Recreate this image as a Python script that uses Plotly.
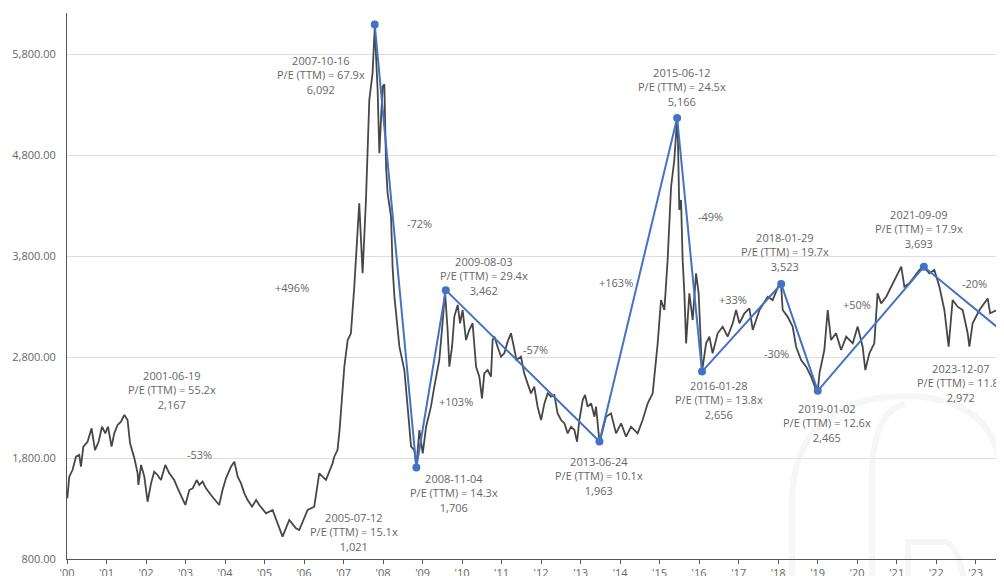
import plotly.graph_objects as go
import pandas as pd

# ---------------- data ----------------
index_dates = [
    "2000-01-04", "2000-01-22", "2000-02-21", "2000-03-24", "2000-04-23", "2000-05-09", "2000-05-31",
    "2000-07-09", "2000-08-15", "2000-09-16", "2000-10-19", "2000-11-20", "2000-12-20", "2001-01-14",
    "2001-02-16", "2001-03-13", "2001-04-13", "2001-05-14", "2001-06-14", "2001-07-14", "2001-08-06",
    "2001-09-15", "2001-10-15", "2001-10-22", "2001-11-16", "2001-12-16", "2002-01-15", "2002-02-16",
    "2002-03-17", "2002-04-17", "2002-05-19", "2002-06-28", "2002-08-04", "2002-09-18", "2002-10-28",
    "2002-12-04", "2002-12-30", "2003-02-05", "2003-03-08", "2003-04-14", "2003-05-08", "2003-06-08",
    "2003-07-09", "2003-08-24", "2003-10-10", "2003-11-08", "2003-12-09", "2004-01-10", "2004-02-25",
    "2004-03-27", "2004-04-27", "2004-05-28", "2004-06-28", "2004-07-28", "2004-09-07", "2004-10-14",
    "2004-11-13", "2005-01-14", "2005-03-16", "2005-05-17", "2005-06-16", "2005-08-17", "2005-10-18",
    "2005-11-17", "2006-02-03", "2006-04-05", "2006-05-21", "2006-07-22", "2006-09-21", "2006-10-07",
    "2006-11-06", "2006-11-25", "2006-12-10", "2007-01-08", "2007-02-08", "2007-03-10", "2007-04-10",
    "2007-05-26", "2007-06-26", "2007-07-27", "2007-08-27", "2007-09-26", "2007-10-16", "2007-11-12",
    "2007-11-28", "2007-12-28", "2008-01-13", "2008-01-29", "2008-02-12", "2008-03-15", "2008-03-29",
    "2008-04-15", "2008-05-31", "2008-07-16", "2008-08-15", "2008-09-16", "2008-10-16", "2008-11-04",
    "2008-12-02", "2009-01-02", "2009-02-02", "2009-03-19", "2009-04-19", "2009-06-04", "2009-07-04",
    "2009-07-27", "2009-08-20", "2009-09-05", "2009-09-30", "2009-10-21", "2009-11-21", "2009-12-13",
    "2010-01-06", "2010-02-06", "2010-03-08", "2010-04-08", "2010-05-10", "2010-06-09", "2010-07-04",
    "2010-07-25", "2010-08-25", "2010-09-25", "2010-10-10", "2010-10-26", "2010-11-25", "2010-12-27",
    "2011-01-26", "2011-02-26", "2011-03-29", "2011-04-19", "2011-05-19", "2011-06-29", "2011-07-29",
    "2011-08-29", "2011-09-30", "2011-10-30", "2011-11-30", "2012-01-01", "2012-02-01", "2012-03-02",
    "2012-04-02", "2012-05-03", "2012-06-02", "2012-07-04", "2012-08-04", "2012-09-03", "2012-10-04",
    "2012-11-04", "2012-11-29", "2012-12-20", "2013-01-20", "2013-02-11", "2013-03-07", "2013-04-08",
    "2013-05-08", "2013-05-23", "2013-06-16", "2013-06-25", "2013-08-23", "2013-10-09", "2013-11-24",
    "2014-01-10", "2014-02-25", "2014-04-12", "2014-06-12", "2014-07-28", "2014-09-13", "2014-10-29",
    "2014-12-14", "2015-01-14", "2015-02-14", "2015-03-16", "2015-04-17", "2015-05-17", "2015-06-12",
    "2015-06-20", "2015-07-02", "2015-07-18", "2015-08-02", "2015-08-18", "2015-09-03", "2015-10-03",
    "2015-11-03", "2015-12-04", "2015-12-28", "2016-01-19", "2016-01-28", "2016-03-06", "2016-04-05",
    "2016-05-05", "2016-06-21", "2016-08-06", "2016-09-21", "2016-11-07", "2016-12-08", "2017-01-08",
    "2017-02-23", "2017-04-10", "2017-05-11", "2017-07-12", "2017-09-26", "2017-11-11", "2017-12-27",
    "2018-01-25", "2018-02-12", "2018-03-29", "2018-05-15", "2018-06-16", "2018-08-01", "2018-09-17",
    "2018-11-02", "2018-12-12", "2019-01-02", "2019-01-18", "2019-03-04", "2019-04-04", "2019-05-05",
    "2019-06-20", "2019-08-06", "2019-09-22", "2019-11-22", "2020-01-06", "2020-02-21", "2020-03-17",
    "2020-04-23", "2020-06-08", "2020-07-08", "2020-08-10", "2020-09-26", "2020-11-26", "2021-01-11",
    "2021-02-12", "2021-03-13", "2021-04-28", "2021-06-14", "2021-07-30", "2021-09-09", "2021-10-30",
    "2021-12-15", "2022-01-31", "2022-03-18", "2022-04-26", "2022-06-02", "2022-07-18", "2022-09-03",
    "2022-10-19", "2022-11-04", "2022-12-04", "2023-02-05", "2023-04-22", "2023-05-15", "2023-07-16",
    "2023-08-22", "2023-10-20", "2023-12-07",
]
index_values = [
    1401, 1615, 1681, 1813, 1830, 1714, 1912,
    1961, 2094, 1879, 1961, 2110, 2044, 2110,
    1912, 2044, 2127, 2160, 2226, 2176, 1946,
    1797, 1648, 1533, 1731, 1615, 1367, 1549,
    1664, 1632, 1582, 1731, 1648, 1582, 1483,
    1401, 1335, 1483, 1500, 1582, 1533, 1566,
    1500, 1434, 1367, 1335, 1483, 1599, 1714,
    1764, 1615, 1549, 1450, 1384, 1318, 1384,
    1335, 1252, 1285, 1120, 1021, 1186, 1104,
    1087, 1285, 1318, 1648, 1582, 1747, 1813,
    1879, 2077, 2308, 2704, 2968, 3035, 3496,
    4322, 3629, 4355, 5345, 5609, 6060, 5444,
    4817, 5477, 5500, 4684, 4421, 4190, 3695,
    3400, 2902, 2671, 2308, 1912, 1879, 1720,
    2077, 1846, 2110, 2308, 2506, 2770, 3134,
    3446, 3067, 2704, 2902, 3200, 3315, 3134,
    3265, 2968, 3067, 3134, 2704, 2605, 2391,
    2638, 2671, 2605, 2968, 3002, 2902, 2803,
    2836, 2952, 3035, 2935, 2770, 2803, 2638,
    2539, 2440, 2506, 2308, 2176, 2341, 2440,
    2407, 2424, 2242, 2176, 2143, 2044, 2110,
    2077, 1961, 2176, 2374, 2424, 2308, 2341,
    2209, 2308, 2061, 1950, 2209, 2242, 2044,
    2143, 2011, 2110, 2044, 2176, 2341, 2440,
    2935, 3364, 3265, 3760, 4486, 4751, 5166,
    4916, 4256, 4355, 3760, 3431, 2935, 3431,
    3166, 3629, 3431, 2902, 2656, 2935, 3002,
    2836, 3035, 3101, 3002, 3134, 3265, 3134,
    3233, 3282, 3068, 3265, 3397, 3364, 3496,
    3560, 3265, 3200, 3101, 2902, 2770, 2704,
    2605, 2490, 2465, 2638, 2869, 3265, 2968,
    3035, 2869, 3002, 2935, 3101, 2902, 2671,
    2836, 2935, 3431, 3331, 3397, 3529, 3629,
    3695, 3496, 3529, 3596, 3662, 3693, 3629,
    3662, 3496, 3265, 2902, 3364, 3298, 3265,
    3035, 2902, 3134, 3265, 3380, 3233, 3265,
    3166, 3030, 2972,
]

pivot_dates = ["2001-06-19", "2005-07-12", "2007-10-16", "2008-11-04", "2009-08-03", "2013-06-24",
               "2015-06-12", "2016-01-28", "2018-01-29", "2019-01-02", "2021-09-09", "2023-12-07"]
pivot_values = [2167, 1021, 6092, 1706, 3462, 1963, 5166, 2656, 3523, 2465, 3693, 2972]
pivot_pe = [55.2, 15.1, 67.9, 14.3, 29.4, 10.1, 24.5, 13.8, 19.7, 12.6, 17.9, 11.8]
change_labels = ["-53%", "+496%", "-72%", "+103%", "-57%", "+163%", "-49%", "+33%", "-30%", "+50%", "-20%"]

tick_years = list(range(2000, 2024))
tick_labels = ["'%02d" % (y % 100) for y in tick_years]
y_ticks = [800, 1800, 2800, 3800, 4800, 5800]

# ---------------- layout geometry / styles ----------------
# the page body adds an 8px offset, so the figure is sized to the visible window
PAGE_OFF = 8
W, H = 1004 - PAGE_OFF, 576 - PAGE_OFF
ML, MR, MT, MB = 67 - PAGE_OFF, 0, 13 - PAGE_OFF, 17
X0, X1 = pd.Timestamp("2000-01-01"), pd.Timestamp("2023-09-20")
Y0, Y1 = 800, 6206
PW, PH = W - ML - MR, H - MT - MB
days_per_px = (X1 - X0).days / PW
units_per_px = (Y1 - Y0) / PH

# label offsets in screen pixels (dx right, dy down) from the pivot point
pivot_label_offsets = [(47, -31), (69, -5), (-54, 50), (38, 25), (38, -14), (0, 34),
                       (5, -31), (17, 28), (4, -32), (9, 32), (-5, -38), (-51, 43)]
# change label offsets in pixels from the segment midpoint
change_label_offsets = [(-6, -24), (-38, 7), (24, -23), (25, 23), (13, -16), (-22, 3),
                        (21, -28), (-9, -28), (-23, 16), (-14, -24), (6, -20)]
BLUE_START = 2  # blue zig-zag drawn from the 2007 peak onwards

TEXT = "#666666"
FONT = "Open Sans"

def shifted(date, value, dx, dy):
    d = pd.Timestamp(date) + pd.Timedelta(days=dx * days_per_px)
    return d, value - dy * units_per_px

fig = go.Figure()
fig.add_trace(go.Scatter(x=pd.to_datetime(index_dates), y=index_values, mode="lines",
                         line=dict(color="#474747", width=1.8), hoverinfo="skip", showlegend=False))
fig.add_trace(go.Scatter(x=pd.to_datetime(pivot_dates[BLUE_START:]), y=pivot_values[BLUE_START:],
                         mode="lines+markers", line=dict(color="#4472C4", width=2),
                         marker=dict(color="#4472C4", size=8), cliponaxis=True,
                         hoverinfo="skip", showlegend=False))

annotations = []
for d, v, pe, (dx, dy) in zip(pivot_dates, pivot_values, pivot_pe, pivot_label_offsets):
    ax_, ay_ = shifted(d, v, dx, dy)
    annotations.append(dict(x=ax_, y=ay_, xref="x", yref="y", showarrow=False,
                            text=f"{d}<br>P/E (TTM) = {pe:.1f}x<br>{v:,}",
                            font=dict(family=FONT, size=11, color=TEXT), align="center"))
for i, (lab, (dx, dy)) in enumerate(zip(change_labels, change_label_offsets)):
    t0, t1 = pd.Timestamp(pivot_dates[i]), pd.Timestamp(pivot_dates[i + 1])
    mid_d = t0 + (t1 - t0) / 2
    mid_v = (pivot_values[i] + pivot_values[i + 1]) / 2
    ax_, ay_ = shifted(mid_d, mid_v, dx, dy)
    annotations.append(dict(x=ax_, y=ay_, xref="x", yref="y", showarrow=False, text=lab,
                            font=dict(family=FONT, size=11, color=TEXT)))

# faint background watermark (decorative outline, given in screen pixels)
def pxpath(points):
    parts = []
    for cmd, pts in points:
        coords = " ".join(f"{(x - PAGE_OFF - ML) / PW:.4f},{(H - MB - (y - PAGE_OFF)) / PH:.4f}"
                          for x, y in pts)
        parts.append(f"{cmd} {coords}")
    return " ".join(parts)

watermark = [
    [("M", [(792, 590)]), ("L", [(792, 500)]), ("Q", [(795, 398), (905, 396)]),
     ("Q", [(995, 398), (1000, 470)])],
    [("M", [(872, 590)]), ("L", [(872, 470)]), ("Q", [(875, 410), (905, 404)])],
    [("M", [(908, 590)]), ("L", [(908, 542)]), ("L", [(945, 542)]), ("Q", [(960, 545), (965, 590)])],
]
shapes = [dict(type="path", xref="paper", yref="paper", path=pxpath(p), layer="below",
               fillcolor="rgba(0,0,0,0)", line=dict(color="#f6f6f6", width=6)) for p in watermark]

fig.update_layout(
    width=W, height=H, margin=dict(l=ML, r=MR, t=MT, b=MB, autoexpand=False),
    paper_bgcolor="white", plot_bgcolor="white",
    font=dict(family=FONT, size=11, color=TEXT),
    annotations=annotations, shapes=shapes,
    xaxis=dict(type="date", range=[X0, X1], tickvals=[pd.Timestamp(f"{y}-01-01") for y in tick_years],
               ticktext=tick_labels, ticks="outside", ticklen=4, tickcolor="#555555",
               showline=True, linecolor="#555555", linewidth=1, showgrid=False, zeroline=False,
               automargin=False, tickfont=dict(family=FONT, size=11, color=TEXT)),
    yaxis=dict(range=[Y0, Y1], tickvals=y_ticks, tickformat=",.2f", showline=True,
               linecolor="#555555", linewidth=1, showgrid=True, gridcolor="#dddddd", gridwidth=1,
               zeroline=False, ticks="", ticklabelstandoff=8, automargin=False,
               tickfont=dict(family=FONT, size=11, color=TEXT)),
)
fig.write_html("out.html")
